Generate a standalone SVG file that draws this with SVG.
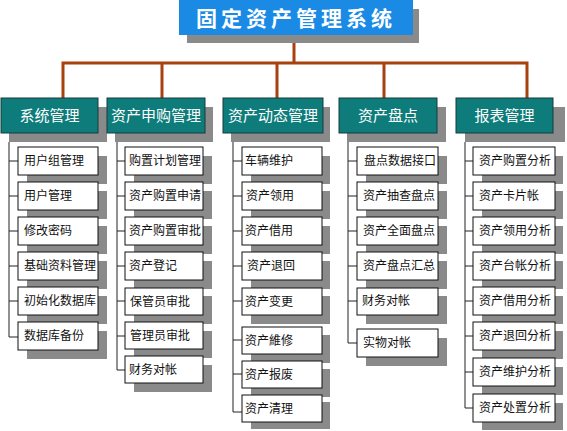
<svg xmlns="http://www.w3.org/2000/svg" width="567" height="431" viewBox="0 0 567 431">
<style>
  .sh{fill:#8a8a8a}
  .hd{fill:#0e7c7b;stroke:#173a3a;stroke-width:1}
  .ht{fill:#ffffff;font-family:"Noto Sans CJK SC","Noto Sans",sans-serif;font-size:15px;text-anchor:middle}
  .bx{fill:#ffffff;stroke:#111111;stroke-width:1}
  .bt{fill:#111111;font-family:"Noto Sans CJK SC","Noto Sans",sans-serif;font-size:12px}
  .tr{fill:none;stroke:#a8410f;stroke-width:3}
  .ln{fill:none;stroke:#222222;stroke-width:1}
</style>
<rect width="567" height="431" fill="#ffffff"/>
<g id="title">
  <rect class="sh" x="187" y="9" width="232" height="34"/>
  <rect x="179" y="0" width="234" height="35" fill="#1a8ae4"/>
  <text x="296" y="26" fill="#ffffff" font-family="Noto Sans CJK SC,sans-serif" font-size="21" font-weight="bold" letter-spacing="4" text-anchor="middle">固定资产管理系统</text>
</g>
<g id="connectors">
  <path class="tr" d="M294,43 V63 M63,98 V63 H527 V98 M162,63 V98 M277,63 V98 M384,63 V98"/>
  <path class="ln" d="M9,142 V337 M9,161 H18 M9,196 H18 M9,231 H18 M9,266 H18 M9,301 H18 M9,337 H18"/>
  <path class="ln" d="M117,142 V370 M117,161 H125 M117,196 H125 M117,231 H125 M117,266 H125 M117,301 H125 M117,336 H125 M117,370 H125"/>
  <path class="ln" d="M233,142 V412 M233,161 H242 M233,196 H242 M233,231 H242 M233,266 H242 M233,301 H242 M233,340 H242 M233,374 H242 M233,412 H242"/>
  <path class="ln" d="M348,142 V343 M348,161 H357 M348,196 H357 M348,231 H357 M348,266 H357 M348,301 H357 M348,343 H357"/>
  <path class="ln" d="M465,142 V408 M465,161 H473 M465,196 H473 M465,231 H473 M465,266 H473 M465,301 H473 M465,336 H473 M465,372 H473 M465,408 H473"/>
</g>
<g id="h1"><rect class="sh" x="9" y="107" width="98" height="35"/><rect class="hd" x="1" y="98" width="97" height="35"/><text class="ht" x="49.5" y="121">系统管理</text></g>
<g id="h2"><rect class="sh" x="115" y="107" width="98" height="35"/><rect class="hd" x="107" y="98" width="98" height="35"/><text class="ht" x="156" y="121">资产申购管理</text></g>
<g id="h3"><rect class="sh" x="231" y="107" width="99" height="35"/><rect class="hd" x="223" y="98" width="100" height="35"/><text class="ht" x="273" y="121">资产动态管理</text></g>
<g id="h4"><rect class="sh" x="347" y="107" width="99" height="35"/><rect class="hd" x="339" y="98" width="98" height="35"/><text class="ht" x="388" y="121">资产盘点</text></g>
<g id="h5"><rect class="sh" x="465" y="107" width="100" height="35"/><rect class="hd" x="456" y="98" width="97" height="35"/><text class="ht" x="504.5" y="121">报表管理</text></g>

<g id="c1">
  <g id="c1-1"><rect class="sh" x="27" y="156" width="80" height="28"/><rect class="bx" x="18" y="147" width="80" height="28"/><text class="bt" x="24" y="165">用户组管理</text></g>
  <g id="c1-2"><rect class="sh" x="27" y="191" width="80" height="28"/><rect class="bx" x="18" y="182" width="80" height="28"/><text class="bt" x="24" y="200">用户管理</text></g>
  <g id="c1-3"><rect class="sh" x="27" y="226" width="80" height="28"/><rect class="bx" x="18" y="217" width="80" height="28"/><text class="bt" x="24" y="235">修改密码</text></g>
  <g id="c1-4"><rect class="sh" x="27" y="261" width="80" height="28"/><rect class="bx" x="18" y="252" width="80" height="28"/><text class="bt" x="24" y="270">基础资料管理</text></g>
  <g id="c1-5"><rect class="sh" x="27" y="296" width="80" height="28"/><rect class="bx" x="18" y="287" width="80" height="28"/><text class="bt" x="24" y="305">初始化数据库</text></g>
  <g id="c1-6"><rect class="sh" x="27" y="331" width="80" height="28"/><rect class="bx" x="18" y="322" width="80" height="28"/><text class="bt" x="24" y="340">数据库备份</text></g>
</g>
<g id="c2">
  <g id="c2-1"><rect class="sh" x="134" y="156" width="78" height="28"/><rect class="bx" x="125" y="147" width="78" height="28"/><text class="bt" x="129" y="165">购置计划管理</text></g>
  <g id="c2-2"><rect class="sh" x="134" y="191" width="78" height="28"/><rect class="bx" x="125" y="182" width="78" height="28"/><text class="bt" x="129" y="200">资产购置申请</text></g>
  <g id="c2-3"><rect class="sh" x="134" y="226" width="78" height="28"/><rect class="bx" x="125" y="217" width="78" height="28"/><text class="bt" x="129" y="235">资产购置审批</text></g>
  <g id="c2-4"><rect class="sh" x="134" y="261" width="78" height="28"/><rect class="bx" x="125" y="252" width="78" height="28"/><text class="bt" x="129" y="270">资产登记</text></g>
  <g id="c2-5"><rect class="sh" x="134" y="296" width="78" height="28"/><rect class="bx" x="125" y="288" width="78" height="27"/><text class="bt" x="130" y="306">保管员审批</text></g>
  <g id="c2-6"><rect class="sh" x="134" y="331" width="78" height="27"/><rect class="bx" x="125" y="322" width="78" height="27"/><text class="bt" x="130" y="340">管理员审批</text></g>
  <g id="c2-7"><rect class="sh" x="134" y="365" width="78" height="27"/><rect class="bx" x="125" y="356" width="78" height="27"/><text class="bt" x="129" y="374">财务对帐</text></g>
</g>
<g id="c3">
  <g id="c3-1"><rect class="sh" x="251" y="156" width="79" height="28"/><rect class="bx" x="242" y="147" width="80" height="28"/><text class="bt" x="245" y="165">车辆维护</text></g>
  <g id="c3-2"><rect class="sh" x="251" y="191" width="79" height="28"/><rect class="bx" x="242" y="182" width="80" height="28"/><text class="bt" x="246" y="200">资产领用</text></g>
  <g id="c3-3"><rect class="sh" x="251" y="226" width="79" height="28"/><rect class="bx" x="242" y="217" width="80" height="28"/><text class="bt" x="245" y="235">资产借用</text></g>
  <g id="c3-4"><rect class="sh" x="251" y="261" width="79" height="28"/><rect class="bx" x="242" y="252" width="80" height="28"/><text class="bt" x="247" y="270">资产退回</text></g>
  <g id="c3-5"><rect class="sh" x="251" y="296" width="79" height="28"/><rect class="bx" x="242" y="288" width="80" height="27"/><text class="bt" x="245" y="306">资产变更</text></g>
  <g id="c3-6"><rect class="sh" x="251" y="335" width="79" height="28"/><rect class="bx" x="242" y="327" width="80" height="27"/><text class="bt" x="245" y="345">资产維修</text></g>
  <g id="c3-7"><rect class="sh" x="251" y="369" width="79" height="28"/><rect class="bx" x="242" y="361" width="80" height="27"/><text class="bt" x="245" y="379">资产报废</text></g>
  <g id="c3-8"><rect class="sh" x="251" y="402" width="79" height="27"/><rect class="bx" x="242" y="395" width="80" height="27"/><text class="bt" x="245" y="413">资产清理</text></g>
</g>
<g id="c4">
  <g id="c4-1"><rect class="sh" x="366" y="156" width="81" height="28"/><rect class="bx" x="357" y="147" width="81" height="28"/><text class="bt" x="364" y="165">盘点数据接口</text></g>
  <g id="c4-2"><rect class="sh" x="366" y="191" width="81" height="28"/><rect class="bx" x="357" y="182" width="81" height="28"/><text class="bt" x="363" y="200">资产抽查盘点</text></g>
  <g id="c4-3"><rect class="sh" x="366" y="226" width="81" height="28"/><rect class="bx" x="357" y="217" width="81" height="28"/><text class="bt" x="363" y="235">资产全面盘点</text></g>
  <g id="c4-4"><rect class="sh" x="366" y="261" width="81" height="28"/><rect class="bx" x="357" y="252" width="81" height="28"/><text class="bt" x="363" y="270">资产盘点汇总</text></g>
  <g id="c4-5"><rect class="sh" x="366" y="296" width="81" height="28"/><rect class="bx" x="357" y="288" width="81" height="27"/><text class="bt" x="362" y="305">财务对帐</text></g>
  <g id="c4-6"><rect class="sh" x="366" y="338" width="81" height="28"/><rect class="bx" x="357" y="329" width="81" height="28"/><text class="bt" x="363" y="347">实物对帐</text></g>
</g>
<g id="c5">
  <g id="c5-1"><rect class="sh" x="482" y="156" width="81" height="28"/><rect class="bx" x="473" y="147" width="82" height="28"/><text class="bt" x="479" y="165">资产购置分析</text></g>
  <g id="c5-2"><rect class="sh" x="482" y="191" width="81" height="28"/><rect class="bx" x="473" y="182" width="82" height="28"/><text class="bt" x="479" y="200">资产卡片帐</text></g>
  <g id="c5-3"><rect class="sh" x="482" y="226" width="81" height="28"/><rect class="bx" x="473" y="217" width="82" height="28"/><text class="bt" x="479" y="235">资产领用分析</text></g>
  <g id="c5-4"><rect class="sh" x="482" y="261" width="81" height="28"/><rect class="bx" x="473" y="252" width="82" height="28"/><text class="bt" x="479" y="270">资产台帐分析</text></g>
  <g id="c5-5"><rect class="sh" x="482" y="296" width="81" height="28"/><rect class="bx" x="473" y="287" width="82" height="28"/><text class="bt" x="479" y="305">资产借用分析</text></g>
  <g id="c5-6"><rect class="sh" x="482" y="331" width="81" height="28"/><rect class="bx" x="473" y="322" width="82" height="28"/><text class="bt" x="479" y="340">资产退回分析</text></g>
  <g id="c5-7"><rect class="sh" x="482" y="367" width="81" height="28"/><rect class="bx" x="473" y="358" width="82" height="28"/><text class="bt" x="479" y="376">资产维护分析</text></g>
  <g id="c5-8"><rect class="sh" x="482" y="403" width="81" height="27"/><rect class="bx" x="473" y="394" width="82" height="28"/><text class="bt" x="479" y="412">资产处置分析</text></g>
</g>
</svg>
